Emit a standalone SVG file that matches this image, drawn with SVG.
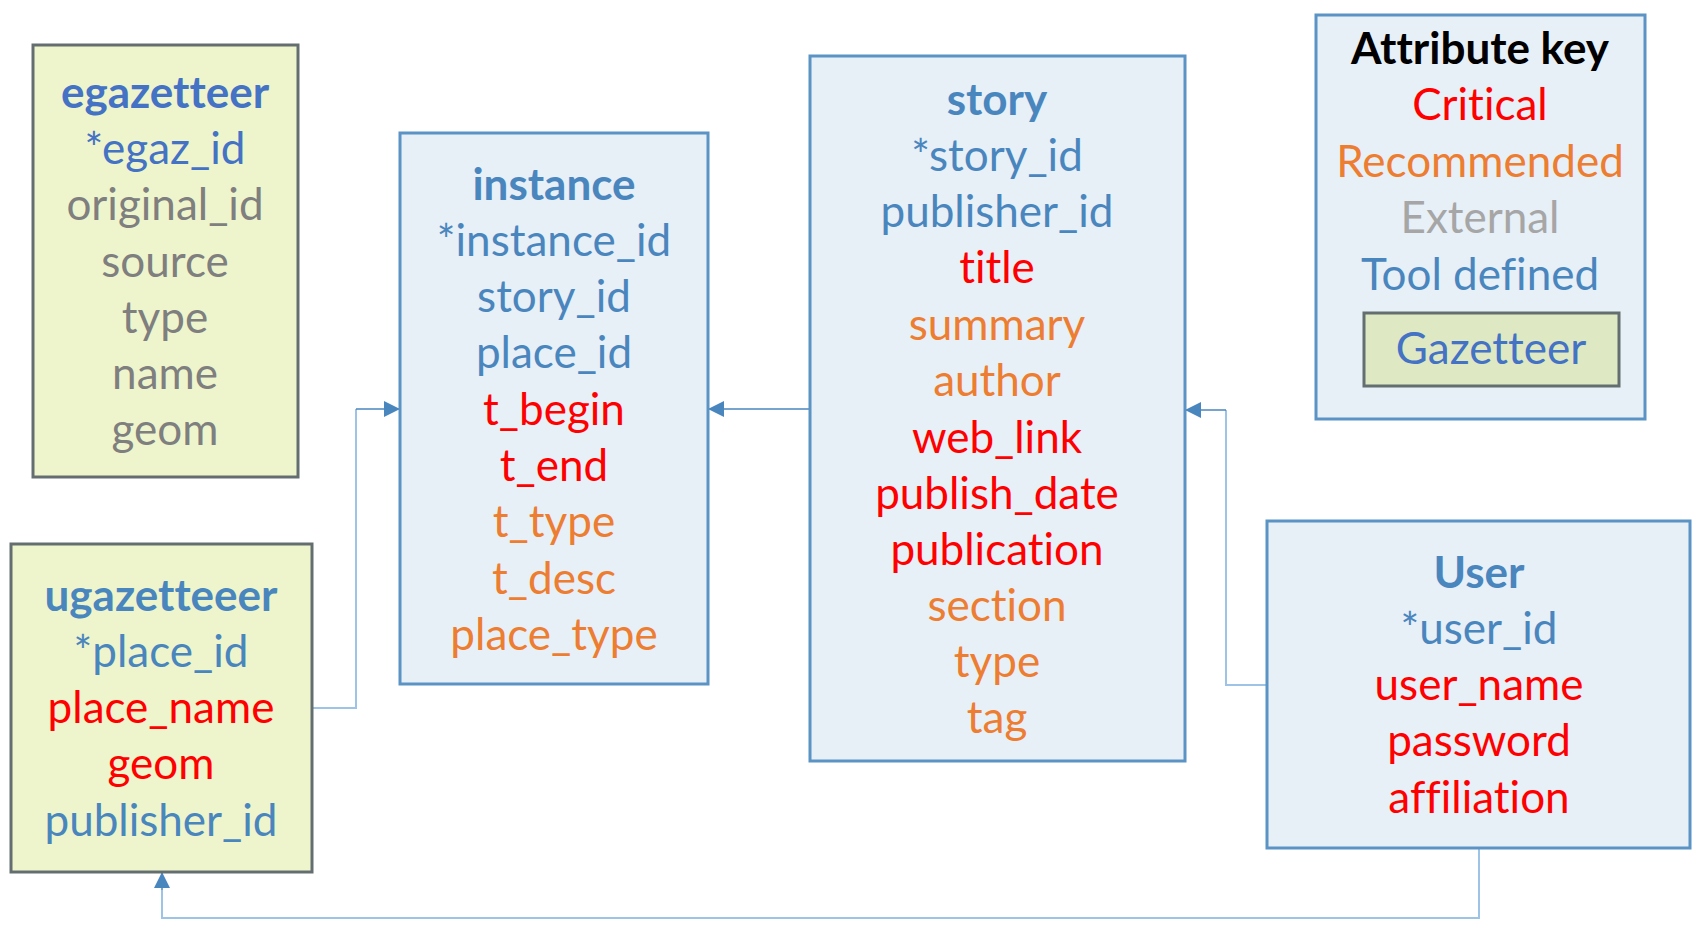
<svg xmlns="http://www.w3.org/2000/svg" width="1698" height="929" viewBox="0 0 1698 929">
<style>
text{font-family:Lato,"Liberation Sans",sans-serif;font-size:44px;text-anchor:middle;font-variant-ligatures:none}
.t{font-weight:bold}
.blue{fill:#4A86BE}
.dblue{fill:#4472C4}
.red{fill:#FF0000}
.org{fill:#ED7D31}
.gray{fill:#7F7F7F}
.lgray{fill:#A6A6A6}
.blk{fill:#000}
.bbox{fill:#E7EFF7;stroke:#5B93C5;stroke-width:3}
.gbox{fill:#EEF5CC;stroke:#646E71;stroke-width:3}
.gkey{fill:#DEE8C2;stroke:#646E71;stroke-width:3}
.cl{fill:none;stroke:#9DC3E6;stroke-width:2}
.cd{fill:none;stroke:#4A86BE;stroke-width:1.5}
</style>
<defs>
<marker id="arr" viewBox="0 0 16 16" refX="16" refY="8" markerWidth="16" markerHeight="16" markerUnits="userSpaceOnUse" orient="auto">
<path d="M0,0 L16,8 L0,16 Z" fill="#4A86BE"/>
</marker>
</defs>
<rect width="1698" height="929" fill="#fff"/>
<g id="connectors">
<path class="cl" d="M312,708 H356 V409"/>
<path class="cd" d="M356,409 H400" marker-end="url(#arr)"/>
<path class="cd" d="M810,409 H708" marker-end="url(#arr)"/>
<path class="cl" d="M1267,685 H1226 V410"/>
<path class="cd" d="M1226,410 H1185" marker-end="url(#arr)"/>
<path class="cl" d="M1479,848 V918 H162 V890"/>
<path class="cd" d="M162,890 V872" marker-end="url(#arr)"/>
</g>
<g id="egazetteer">
<rect class="gbox" x="33" y="45" width="265" height="432"/>
<text class="t dblue" x="165" y="108">egazetteer</text>
<text class="dblue" x="165" y="164">*egaz_id</text>
<text class="gray" x="165" y="220">original_id</text>
<text class="gray" x="165" y="277">source</text>
<text class="gray" x="165" y="333">type</text>
<text class="gray" x="165" y="389">name</text>
<text class="gray" x="165" y="445">geom</text>
</g>
<g id="ugazetteeer">
<rect class="gbox" x="11" y="544" width="301" height="328"/>
<text class="t blue" x="161" y="611">ugazetteeer</text>
<text class="blue" x="161" y="667">*place_id</text>
<text class="red" x="161" y="723">place_name</text>
<text class="red" x="161" y="779">geom</text>
<text class="blue" x="161" y="836">publisher_id</text>
</g>
<g id="instance">
<rect class="bbox" x="400" y="133" width="308" height="551"/>
<text class="t blue" x="554" y="200">instance</text>
<text class="blue" x="554" y="256">*instance_id</text>
<text class="blue" x="554" y="312">story_id</text>
<text class="blue" x="554" y="368">place_id</text>
<text class="red" x="554" y="425">t_begin</text>
<text class="red" x="554" y="481">t_end</text>
<text class="org" x="554" y="537">t_type</text>
<text class="org" x="554" y="594">t_desc</text>
<text class="org" x="554" y="650">place_type</text>
</g>
<g id="story">
<rect class="bbox" x="810" y="56" width="375" height="705"/>
<text class="t blue" x="997" y="115">story</text>
<text class="blue" x="997" y="171">*story_id</text>
<text class="blue" x="997" y="227">publisher_id</text>
<text class="red" x="997" y="283">title</text>
<text class="org" x="997" y="340">summary</text>
<text class="org" x="997" y="396">author</text>
<text class="red" x="997" y="453">web_link</text>
<text class="red" x="997" y="509">publish_date</text>
<text class="red" x="997" y="565">publication</text>
<text class="org" x="997" y="621">section</text>
<text class="org" x="997" y="677">type</text>
<text class="org" x="997" y="733">tag</text>
</g>
<g id="user">
<rect class="bbox" x="1267" y="521" width="423" height="327"/>
<text class="t blue" x="1479" y="588">User</text>
<text class="blue" x="1479" y="644">*user_id</text>
<text class="red" x="1479" y="700">user_name</text>
<text class="red" x="1479" y="756">password</text>
<text class="red" x="1479" y="813">affiliation</text>
</g>
<g id="attribute-key">
<rect class="bbox" x="1316" y="15" width="329" height="404"/>
<text class="t blk" x="1480" y="64">Attribute key</text>
<text class="red" x="1480" y="120">Critical</text>
<text class="org" x="1480" y="177">Recommended</text>
<text class="lgray" x="1480" y="233">External</text>
<text class="blue" x="1480" y="290">Tool defined</text>
<rect class="gkey" x="1364" y="313" width="255" height="73"/>
<text class="dblue" x="1491" y="364">Gazetteer</text>
</g>
</svg>
